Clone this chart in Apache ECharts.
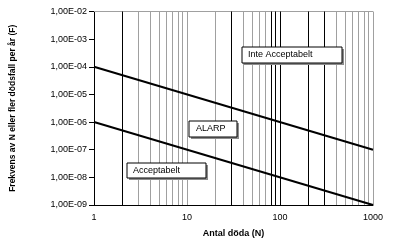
<!DOCTYPE html>
<html>
<head>
<meta charset="utf-8">
<script src="https://cdn.jsdelivr.net/npm/echarts@6/dist/echarts.min.js"></script>
<style>html,body{margin:0;padding:0;background:#fff;}#c{width:395px;height:244px;}</style>
</head>
<body>
<div id="c"></div>
<script>
// Data
var nValues = [1, 1000];
var upperLimit = [1e-4, 1e-7];   // Inte Acceptabelt boundary
var lowerLimit = [1e-6, 1e-9];   // Acceptabelt boundary
var xTickLabels = ['1', '10', '100', '1000'];
var yTickLabels = ['1,00E-09','1,00E-08','1,00E-07','1,00E-06','1,00E-05','1,00E-04','1,00E-03','1,00E-02'];
var gridBlackX = [2, 30, 80, 90, 100, 200, 300];
var gridGrayX = [3, 4, 5, 6, 7, 8, 9, 10, 20, 40, 50, 60, 70, 400, 500, 600, 700, 800, 900, 1000];
var gridBlackY = [1e-6, 1e-8];
var gridGrayY = [1e-2, 1e-3, 1e-4, 1e-5, 1e-7];

var FONT = 'Liberation Sans';
var chart = echarts.init(document.getElementById('c'), null, {renderer: 'canvas'});

function pairs(xs, ys) { return xs.map(function (x, i) { return [x, ys[i]]; }); }

var mlData = [];
gridGrayX.forEach(function (v) { mlData.push({xAxis: v, lineStyle: {color: '#a0a0a0', width: 1, type: 'solid'}}); });
gridGrayY.forEach(function (v) { mlData.push({yAxis: v, lineStyle: {color: '#a0a0a0', width: 1, type: 'solid'}}); });
gridBlackX.forEach(function (v) { mlData.push({xAxis: v, lineStyle: {color: '#000', width: 1, type: 'solid'}}); });
gridBlackY.forEach(function (v) { mlData.push({yAxis: v, lineStyle: {color: '#000', width: 1, type: 'solid'}}); });

function box(x, y, w, h, text, tx) {
  return [
    {type: 'rect', shape: {x: x + 2, y: y + 2, width: w, height: h}, style: {fill: '#8c8c8c'}, z: 100},
    {type: 'rect', shape: {x: x, y: y, width: w, height: h}, style: {fill: '#fff', stroke: '#000', lineWidth: 1}, z: 101},
    {type: 'text', x: tx, y: y + h / 2, style: {text: text, fill: '#000', font: '9px "' + FONT + '"', verticalAlign: 'middle', align: 'left'}, z: 102}
  ];
}

var option = {
  animation: false,
  backgroundColor: '#fff',
  textStyle: {fontFamily: FONT},
  grid: {left: 91, right: 22, top: 11.5, bottom: 39, containLabel: false},
  xAxis: {
    type: 'log', logBase: 10, min: 1, max: 1000, splitNumber: 3,
    name: 'Antal döda (N)', nameLocation: 'middle', nameGap: 24,
    nameTextStyle: {fontFamily: FONT, fontSize: 9, fontWeight: 'bold', color: '#000'},
    axisLine: {show: true, lineStyle: {color: '#000', width: 1}},
    axisTick: {show: false},
    splitLine: {show: false},
    minorTick: {show: false}, minorSplitLine: {show: false},
    axisLabel: {
      fontFamily: FONT, fontSize: 9, color: '#000', margin: 8,
      formatter: function (v) { var i = Math.round(Math.log10(v)); return xTickLabels[i] || ''; }
    }
  },
  yAxis: {
    type: 'log', logBase: 10, min: 1e-9, max: 1e-2, splitNumber: 7,
    name: 'Frekvens av N eller fler dödsfall per år (F)', nameLocation: 'middle', nameGap: 77,
    nameTextStyle: {fontFamily: FONT, fontSize: 8.5, fontWeight: 'bold', color: '#000'},
    axisLine: {show: true, lineStyle: {color: '#000', width: 1}},
    axisTick: {show: true, length: 5, inside: false, lineStyle: {color: '#000'}},
    splitLine: {show: false},
    axisLabel: {
      fontFamily: FONT, fontSize: 9, color: '#000', margin: 7,
      formatter: function (v) { var i = Math.round(Math.log10(v)) + 9; return yTickLabels[i] || ''; }
    }
  },
  series: [
    {
      name: 'grid', type: 'line', data: [[1, 1e-9]], showSymbol: false, symbol: 'none',
      lineStyle: {width: 0, opacity: 0}, silent: true, z: 1,
      markLine: {silent: true, symbol: 'none', label: {show: false}, animation: false, data: mlData}
    },
    {
      name: 'upper', type: 'line', data: pairs(nValues, upperLimit), symbol: 'none',
      lineStyle: {color: '#000', width: 2}, z: 5
    },
    {
      name: 'lower', type: 'line', data: pairs(nValues, lowerLimit), symbol: 'none',
      lineStyle: {color: '#000', width: 2}, z: 5
    }
  ],
  graphic: [].concat(
    box(242, 47, 100, 16, 'Inte Acceptabelt', 248),
    box(189, 121, 48, 16, 'ALARP', 196),
    box(127, 163, 79, 15, 'Acceptabelt', 133)
  )
};
chart.setOption(option);
</script>
</body>
</html>
